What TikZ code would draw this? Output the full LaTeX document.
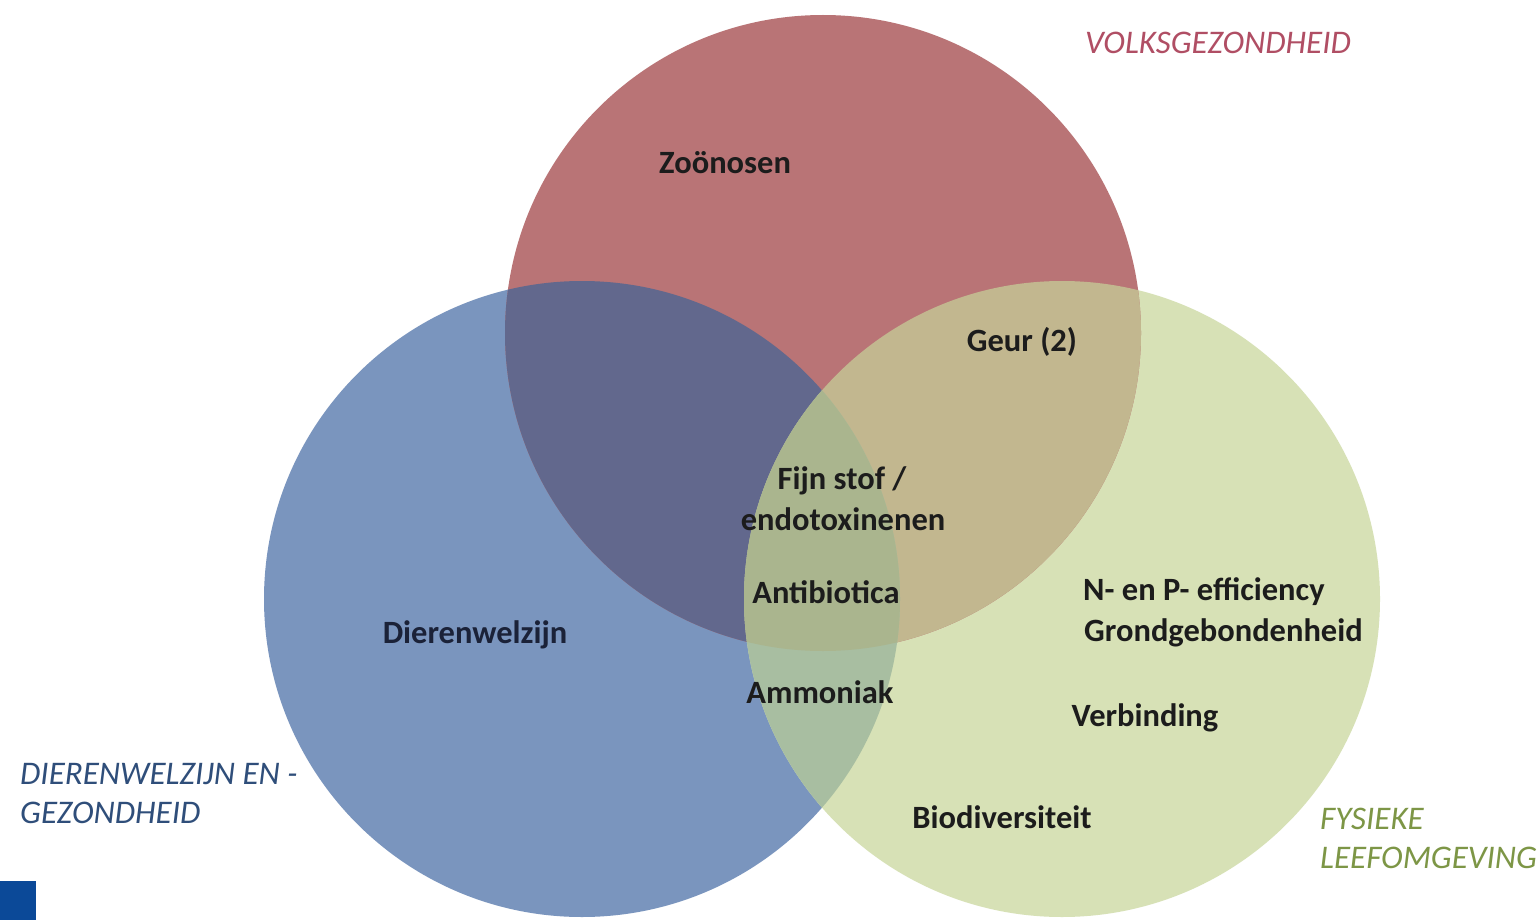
\documentclass[tikz,border=0pt]{standalone}
\usepackage{fontspec}
\setmainfont{Carlito}
\definecolor{cR}{RGB}{185,116,118}
\definecolor{cB}{RGB}{122,149,190}
\definecolor{cG}{RGB}{215,225,182}
\definecolor{cRB}{RGB}{98,104,141}
\definecolor{cRG}{RGB}{194,183,143}
\definecolor{cBG}{RGB}{168,190,161}
\definecolor{cRBG}{RGB}{170,181,142}
\definecolor{tR}{RGB}{176,78,100}
\definecolor{tB}{RGB}{47,78,122}
\definecolor{tG}{RGB}{125,150,70}
\definecolor{sq}{RGB}{11,73,152}
\definecolor{ink}{RGB}{28,28,28}
\tikzset{
  lbl/.style={font=\fontsize{32.5}{38}\selectfont\bfseries, text=ink, inner sep=0pt},
  cat/.style={font=\fontsize{33}{39}\selectfont\itshape, inner sep=0pt, align=left, anchor=west}
}
\begin{document}
\begin{tikzpicture}[x=1pt,y=-1pt]
\useasboundingbox (0,0) rectangle (1539,920);
\fill[white] (0,0) rectangle (1539,920);
\def\rr{318}
\coordinate (cr) at (823,333);
\coordinate (cb) at (582,599);
\coordinate (cg) at (1062,599);
% base circles
\fill[cB] (cb) circle (\rr);
\fill[cG] (cg) circle (\rr);
\fill[cR] (cr) circle (\rr);
% overlaps
\begin{scope}
  \clip (cr) circle (\rr);
  \fill[cRB] (cb) circle (\rr);
  \fill[cRG] (cg) circle (\rr);
\end{scope}
\begin{scope}
  \clip (cb) circle (\rr);
  \fill[cBG] (cg) circle (\rr);
  \clip (cr) circle (\rr);
  \fill[cRBG] (cg) circle (\rr);
\end{scope}
% labels
\node[lbl] (zoo) at (725,163) {Zoönosen};
\node[lbl] (geur) at (1022,342) {Geur (2)};
\node[lbl] (fijn) at (842,481) {Fijn stof /};
\node[lbl] (endo) at (843,519) {endotoxinenen};
\node[lbl] (anti) at (826,592) {Antibiotica};
\node[lbl, text={rgb,255:red,27;green,34;blue,56}] (dier) at (475,635) {Dierenwelzijn};
\node[lbl] (ammo) at (820,692) {Ammoniak};
\node[lbl, anchor=west] (npe) at (1083,592) {N- en P- efficiency};
\node[lbl, anchor=west] (grond) at (1084,633) {Grondgebondenheid};
\node[lbl] (verb) at (1145,718) {Verbinding};
\node[lbl] (bio) at (1002,817) {Biodiversiteit};
% category labels
\node[cat, text=tR] (volks) at (1085,43) {VOLKSGEZONDHEID};
\node[cat, text=tB] (dwg) at (20,794) {DIERENWELZIJN EN -\\GEZONDHEID};
\node[cat, text=tG] (fys) at (1320,838) {FYSIEKE\\LEEFOMGEVING};
\fill[sq] (0,881) rectangle (36,920);
\end{tikzpicture}
\end{document}
